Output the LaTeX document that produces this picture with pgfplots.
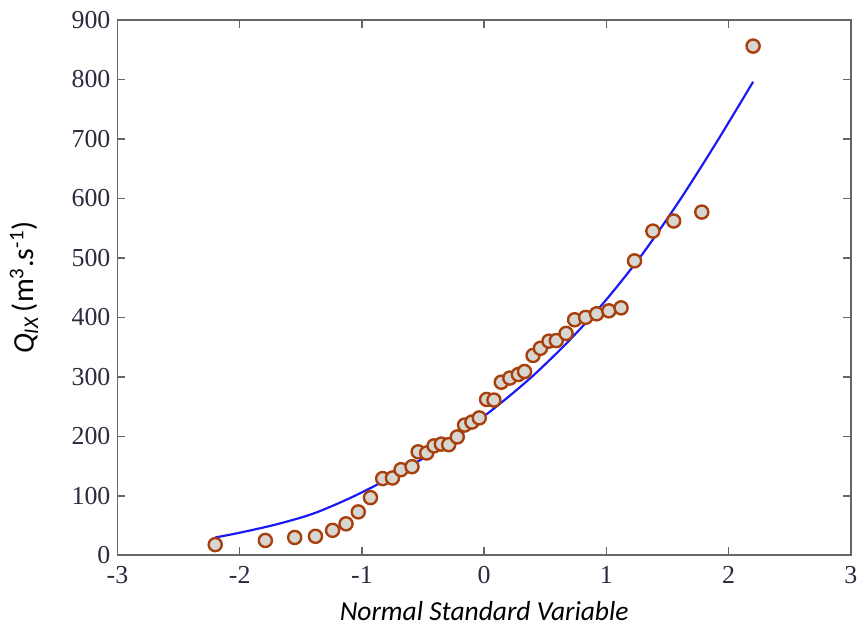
\documentclass[border=0pt]{standalone}
\usepackage{fontspec}
\setmainfont{Carlito}
\newfontfamily\tickfont{Liberation Serif}
\usepackage{pgfplots}
\pgfplotsset{compat=1.18}
\definecolor{mkedge}{HTML}{A8400E}
\definecolor{mkfill}{HTML}{D8D6D0}
\definecolor{fitblue}{HTML}{1A1AF5}
\definecolor{axgray}{HTML}{666666}
\definecolor{ticktext}{HTML}{2B2B3F}
\begin{document}
\begin{tikzpicture}
% background frame to fix the page size (864x621 px at 0.5pt per px)
\path (-59pt,-31.5pt) rectangle (373pt,279pt);
\begin{axis}[
    at={(0,0)}, anchor=south west,
    width=368.5pt, height=269pt, scale only axis,
    xmin=-3, xmax=3, ymin=0, ymax=900,
    xtick={-3,-2,-1,0,1,2,3},
    ytick={0,100,200,300,400,500,600,700,800,900},
    tick align=inside,
    major tick length=4pt,
    axis line style={axgray, line width=0.9pt},
    tick style={axgray, line width=0.7pt},
    /pgf/number format/assume math mode=true,
    tick label style={font=\tickfont\fontsize{13}{13}\selectfont, text=ticktext},
    xticklabel style={yshift=-2pt},
    xlabel={\itshape Normal Standard Variable},
    ylabel={\itshape Q\textsubscript{\itshape IX}\,\upshape(m\textsuperscript{3}.s\textsuperscript{-1})},
    xlabel style={font=\fontsize{13.8}{13.8}\selectfont, yshift=-2pt},
    ylabel style={font=\fontsize{15}{15}\selectfont, yshift=10pt},
    clip=false,
]
\addplot[fitblue, line width=1.1pt, smooth] coordinates {
(-2.2,30)(-2.0,38)(-1.7,52)(-1.4,70)(-1.1,96)(-0.8,127)(-0.5,163)(-0.2,204)
(0.1,250)(0.4,302)(0.7,362)(1.0,430)(1.3,508)(1.6,597)(1.9,694)(2.2,796)
};
\addplot[only marks, mark=*, mark size=3.3pt,
    mark options={draw=mkedge, fill=mkfill, line width=1.2pt}] coordinates {
(-2.20,18)(-1.79,25)(-1.55,30)(-1.38,32)(-1.24,42)(-1.13,53)(-1.03,73)
(-0.93,97)(-0.83,129)(-0.75,130)(-0.68,144)(-0.59,149)(-0.54,174)(-0.47,172)
(-0.41,184)(-0.35,187)(-0.29,186)(-0.22,199)(-0.16,219)(-0.10,224)(-0.04,231)
(0.02,262)(0.08,261)(0.14,291)(0.21,298)(0.28,304)(0.33,309)(0.40,336)
(0.46,348)(0.53,360)(0.59,361)(0.67,373)(0.74,396)(0.83,400)(0.92,406)
(1.02,411)(1.12,416)(1.23,495)(1.38,545)(1.55,562)(1.78,577)(2.20,856)
};
\end{axis}
\end{tikzpicture}
\end{document}
